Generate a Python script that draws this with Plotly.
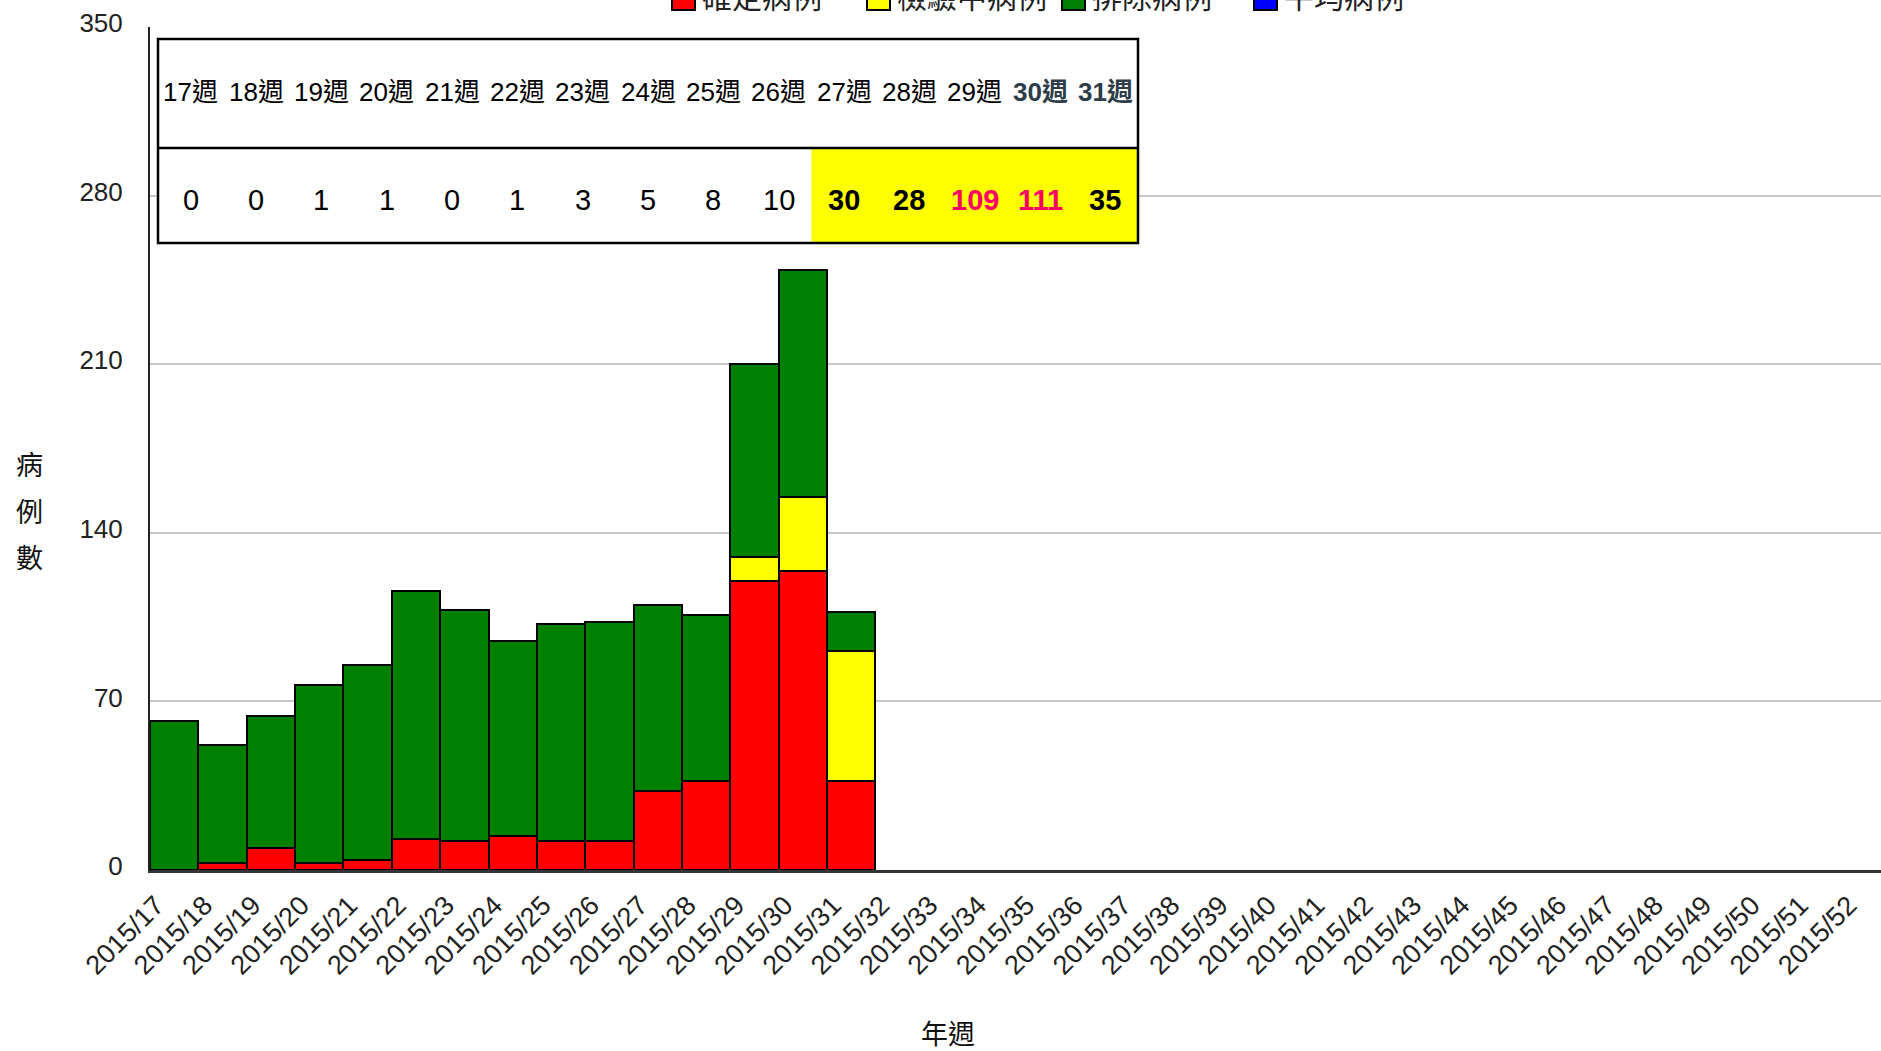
import plotly.graph_objects as go

# ---------------- data ----------------
weeks = ["2015/17", "2015/18", "2015/19", "2015/20", "2015/21", "2015/22", "2015/23",
         "2015/24", "2015/25", "2015/26", "2015/27", "2015/28", "2015/29", "2015/30",
         "2015/31", "2015/32", "2015/33", "2015/34", "2015/35", "2015/36", "2015/37",
         "2015/38", "2015/39", "2015/40", "2015/41", "2015/42", "2015/43", "2015/44",
         "2015/45", "2015/46", "2015/47", "2015/48", "2015/49", "2015/50", "2015/51",
         "2015/52"]
data_weeks = ["2015/17", "2015/18", "2015/19", "2015/20", "2015/21", "2015/22", "2015/23",
              "2015/24", "2015/25", "2015/26", "2015/27", "2015/28", "2015/29", "2015/30",
              "2015/31"]
confirmed = [0, 3, 9, 3, 4, 13, 12, 14, 12, 12, 33, 37, 120, 124, 37]
testing = [0, 0, 0, 0, 0, 0, 0, 0, 0, 0, 0, 0, 10, 31, 54]
excluded = [62, 49, 55, 74, 81, 103, 96, 81, 90, 91, 77, 69, 80, 94, 16]

series_names = ["確定病例", "檢驗中病例", "排除病例", "平均病例"]
y_ticks = [0, 70, 140, 210, 280, 350]

table_weeks = ["17週", "18週", "19週", "20週", "21週", "22週", "23週", "24週",
               "25週", "26週", "27週", "28週", "29週", "30週", "31週"]
table_counts = [0, 0, 1, 1, 0, 1, 3, 5, 8, 10, 30, 28, 109, 111, 35]

# ---------------- style ----------------
COLORS = ["#ff0000", "#ffff00", "#008000", "#0000ff"]
SANS = "Liberation Sans, Arial, Noto Sans CJK TC, sans-serif"
CJK = "Noto Sans CJK TC, sans-serif"

W, H = 1881, 1051
PL, PR, PT, PB = 150, 1881, 27, 870
BAR_W = 48.36


def px_x(px):
    return (px - PL) / (PR - PL)


def px_y(py):
    return (PB - py) / (PB - PT)


fig = go.Figure()
for name, vals, col in zip(series_names[:3], [confirmed, testing, excluded], COLORS[:3]):
    fig.add_trace(go.Bar(
        x=data_weeks, y=vals, name=name, showlegend=False,
        marker=dict(color=col, line=dict(color="black", width=2)),
    ))

x_span = (PR - PL) / BAR_W

fig.update_layout(
    width=W, height=H,
    barmode="stack", bargap=0,
    plot_bgcolor="white", paper_bgcolor="white",
    margin=dict(l=PL, r=W - PR, t=PT, b=H - PB, autoexpand=False),
    showlegend=False,
    xaxis=dict(
        type="category", categoryorder="array", categoryarray=weeks,
        range=[-0.5, -0.5 + x_span],
        tickangle=-45, showgrid=False, showline=True, linecolor="#333", linewidth=2.5,
        ticks="", tickfont=dict(family=SANS, size=27, color="#222"),
        ticklabelstandoff=6, ticklabelshift=-18,
    ),
    yaxis=dict(
        range=[0, 350], tickvals=y_ticks, showgrid=True, gridcolor="#c8c8c8", gridwidth=1.5,
        showline=True, linecolor="#222", linewidth=2, zeroline=False, ticks="",
        tickfont=dict(family=SANS, size=26, color="#222"),
        ticklabelstandoff=20, ticklabelshift=-4,
    ),
)

shapes = []
annotations = []

# ---- table overlay ----
TX0, TX1, TY0, TY1, TYM = 158, 1138, 39, 243, 148
col_w = (TX1 - TX0) / len(table_weeks)
HIGHLIGHT_FROM = 10
shapes.append(dict(type="rect", xref="paper", yref="paper",
                   x0=px_x(TX0), x1=px_x(TX1), y0=px_y(TY1), y1=px_y(TY0),
                   fillcolor="white", line=dict(width=0)))
shapes.append(dict(type="rect", xref="paper", yref="paper",
                   x0=px_x(TX0 + HIGHLIGHT_FROM * col_w), x1=px_x(TX1),
                   y0=px_y(TY1), y1=px_y(TYM),
                   fillcolor="#ffff00", line=dict(width=0)))
shapes.append(dict(type="line", xref="paper", yref="paper",
                   x0=px_x(TX0), x1=px_x(TX1), y0=px_y(TYM), y1=px_y(TYM),
                   line=dict(color="black", width=2.5)))
shapes.append(dict(type="rect", xref="paper", yref="paper",
                   x0=px_x(TX0), x1=px_x(TX1), y0=px_y(TY1), y1=px_y(TY0),
                   line=dict(color="black", width=2.5)))

for i, (wk, cnt) in enumerate(zip(table_weeks, table_counts)):
    cx = px_x(TX0 + col_w * (i + 0.5))
    head_bold = i >= 13
    annotations.append(dict(
        x=cx, y=px_y(92), xref="paper", yref="paper", showarrow=False,
        text=f"<b>{wk}</b>" if head_bold else wk,
        font=dict(family=SANS, size=26, color="#2e3d49" if head_bold else "black"),
        xanchor="center", yanchor="middle"))
    val_bold = i >= HIGHLIGHT_FROM
    val_color = "#ff0066" if cnt > 100 else "black"
    annotations.append(dict(
        x=cx, y=px_y(200), xref="paper", yref="paper", showarrow=False,
        text=f"<b>{cnt}</b>" if val_bold else str(cnt),
        font=dict(family=SANS, size=29, color=val_color),
        xanchor="center", yanchor="middle"))

# ---- legend (partially cropped at the top) ----
legend_sq = [672, 867, 1062, 1254]
for name, col, sx in zip(series_names, COLORS, legend_sq):
    shapes.append(dict(type="rect", xref="paper", yref="paper",
                       x0=px_x(sx), x1=px_x(sx + 23), y0=px_y(10), y1=px_y(-14),
                       fillcolor=col, line=dict(color="black", width=2)))
    annotations.append(dict(
        x=px_x(sx + 28), y=px_y(-5), xref="paper", yref="paper", showarrow=False,
        text=name, font=dict(family=CJK, size=30, color="#222"),
        xanchor="left", yanchor="middle"))

# ---- axis titles ----
for ch, cy in zip("病例數", [463, 510, 556]):
    annotations.append(dict(
        x=px_x(29), y=px_y(cy), xref="paper", yref="paper", showarrow=False,
        text=ch, font=dict(family=CJK, size=27, color="#111"),
        xanchor="center", yanchor="middle"))
annotations.append(dict(
    x=px_x(948), y=px_y(1032), xref="paper", yref="paper", showarrow=False,
    text="年週", font=dict(family=CJK, size=27, color="#111"),
    xanchor="center", yanchor="middle"))

fig.update_layout(shapes=shapes, annotations=annotations)
fig.write_html(
    "out.html",
    config={"displayModeBar": False},
    post_script="document.body.style.margin='0px';document.body.style.overflow='hidden';",
)
